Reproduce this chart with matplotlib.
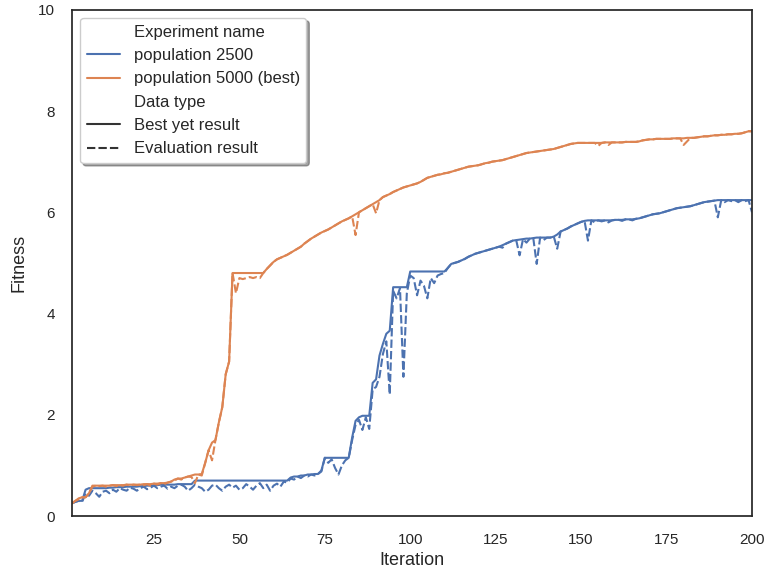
import numpy as np
import matplotlib
matplotlib.use("Agg")
import matplotlib.pyplot as plt
from matplotlib.lines import Line2D
import seaborn as sns

sns.set_style("white")
plt.rcParams['font.family'] = ['Liberation Sans', 'DejaVu Sans']

iterations = np.arange(1, 201)

# population 5000 (best)
pop5000_best = [
    0.25, 0.30, 0.35, 0.37, 0.37, 0.45, 0.60, 0.60, 0.60, 0.60,
    0.60, 0.60, 0.61, 0.61, 0.61, 0.61, 0.62, 0.62, 0.62, 0.62,
    0.62, 0.63, 0.63, 0.63, 0.64, 0.64, 0.65, 0.65, 0.66, 0.68,
    0.72, 0.74, 0.74, 0.76, 0.78, 0.80, 0.82, 0.82, 0.83, 1.05,
    1.30, 1.45, 1.50, 1.85, 2.15, 2.80, 3.05, 4.80, 4.80, 4.80,
    4.80, 4.80, 4.80, 4.80, 4.80, 4.80, 4.80, 4.88, 4.95, 5.02,
    5.07, 5.10, 5.13, 5.16, 5.20, 5.24, 5.28, 5.32, 5.38, 5.43,
    5.48, 5.52, 5.56, 5.60, 5.63, 5.66, 5.70, 5.74, 5.78, 5.82,
    5.85, 5.88, 5.92, 5.96, 6.00, 6.04, 6.08, 6.12, 6.16, 6.20,
    6.24, 6.30, 6.33, 6.36, 6.40, 6.43, 6.46, 6.49, 6.51, 6.53,
    6.55, 6.57, 6.60, 6.64, 6.68, 6.70, 6.72, 6.74, 6.75, 6.77,
    6.78, 6.80, 6.82, 6.84, 6.86, 6.88, 6.90, 6.91, 6.92, 6.93,
    6.95, 6.97, 6.98, 7.00, 7.01, 7.02, 7.03, 7.05, 7.07, 7.09,
    7.11, 7.13, 7.15, 7.17, 7.18, 7.19, 7.20, 7.21, 7.22, 7.23,
    7.24, 7.25, 7.27, 7.29, 7.31, 7.33, 7.35, 7.36, 7.37, 7.37,
    7.37, 7.37, 7.37, 7.37, 7.37, 7.37, 7.38, 7.38, 7.38, 7.38,
    7.38, 7.38, 7.39, 7.39, 7.39, 7.39, 7.40, 7.42, 7.43, 7.44,
    7.44, 7.45, 7.45, 7.45, 7.45, 7.45, 7.46, 7.46, 7.46, 7.46,
    7.47, 7.47, 7.47, 7.48, 7.49, 7.50, 7.50, 7.51, 7.52, 7.52,
    7.53, 7.53, 7.54, 7.54, 7.55, 7.55, 7.56, 7.58, 7.60, 7.60,
]
pop5000_eval = [
    0.25, 0.30, 0.33, 0.37, 0.37, 0.45, 0.58, 0.60, 0.59, 0.60,
    0.58, 0.60, 0.61, 0.59, 0.61, 0.60, 0.62, 0.60, 0.62, 0.61,
    0.62, 0.61, 0.63, 0.60, 0.64, 0.62, 0.65, 0.63, 0.66, 0.68,
    0.70, 0.74, 0.72, 0.76, 0.78, 0.77, 0.65, 0.82, 0.80, 1.05,
    1.30, 1.10, 1.50, 1.85, 2.15, 2.80, 3.05, 4.80, 4.40, 4.70,
    4.68, 4.70, 4.72, 4.70, 4.72, 4.70, 4.80, 4.88, 4.95, 5.02,
    5.07, 5.10, 5.13, 5.16, 5.20, 5.24, 5.28, 5.32, 5.38, 5.43,
    5.48, 5.52, 5.56, 5.60, 5.63, 5.66, 5.70, 5.74, 5.78, 5.82,
    5.85, 5.88, 5.92, 5.55, 6.00, 6.04, 6.08, 6.12, 6.16, 5.98,
    6.24, 6.30, 6.33, 6.36, 6.40, 6.43, 6.46, 6.49, 6.51, 6.53,
    6.55, 6.57, 6.60, 6.64, 6.68, 6.70, 6.72, 6.74, 6.75, 6.77,
    6.78, 6.80, 6.82, 6.84, 6.86, 6.88, 6.90, 6.91, 6.92, 6.93,
    6.95, 6.97, 6.98, 7.00, 7.01, 7.02, 7.03, 7.05, 7.07, 7.09,
    7.11, 7.13, 7.15, 7.17, 7.18, 7.19, 7.20, 7.21, 7.22, 7.23,
    7.24, 7.25, 7.27, 7.29, 7.31, 7.33, 7.35, 7.36, 7.37, 7.37,
    7.37, 7.37, 7.37, 7.37, 7.31, 7.37, 7.38, 7.33, 7.38, 7.38,
    7.38, 7.38, 7.39, 7.39, 7.39, 7.39, 7.40, 7.42, 7.43, 7.44,
    7.44, 7.45, 7.45, 7.45, 7.45, 7.45, 7.46, 7.46, 7.46, 7.33,
    7.40, 7.47, 7.47, 7.48, 7.49, 7.50, 7.50, 7.51, 7.52, 7.52,
    7.53, 7.53, 7.54, 7.54, 7.55, 7.55, 7.56, 7.58, 7.60, 7.60,
]

# population 2500
pop2500_best = [
    0.25, 0.28, 0.30, 0.30, 0.52, 0.55, 0.55, 0.55, 0.55, 0.55,
    0.55, 0.56, 0.56, 0.57, 0.57, 0.57, 0.58, 0.58, 0.58, 0.58,
    0.59, 0.59, 0.60, 0.60, 0.61, 0.61, 0.62, 0.62, 0.62, 0.62,
    0.62, 0.63, 0.63, 0.63, 0.63, 0.63, 0.70, 0.70, 0.70, 0.70,
    0.70, 0.70, 0.70, 0.70, 0.70, 0.70, 0.70, 0.70, 0.70, 0.70,
    0.70, 0.70, 0.70, 0.70, 0.70, 0.70, 0.70, 0.70, 0.70, 0.70,
    0.70, 0.70, 0.70, 0.70, 0.76, 0.78, 0.78, 0.80, 0.80, 0.82,
    0.82, 0.83, 0.83, 0.90, 1.15, 1.15, 1.15, 1.15, 1.15, 1.15,
    1.15, 1.15, 1.55, 1.88, 1.95, 1.98, 1.98, 1.98, 2.63, 2.70,
    3.17, 3.40, 3.60, 3.66, 4.52, 4.52, 4.52, 4.52, 4.52, 4.83,
    4.83, 4.83, 4.83, 4.83, 4.83, 4.83, 4.83, 4.83, 4.83, 4.83,
    4.90, 4.98, 5.00, 5.02, 5.05, 5.08, 5.12, 5.15, 5.18, 5.20,
    5.22, 5.24, 5.26, 5.28, 5.30, 5.32, 5.35, 5.38, 5.41, 5.44,
    5.45, 5.46, 5.47, 5.48, 5.48, 5.49, 5.50, 5.50, 5.50, 5.50,
    5.50, 5.52, 5.56, 5.62, 5.65, 5.68, 5.72, 5.75, 5.78, 5.81,
    5.83, 5.84, 5.84, 5.84, 5.84, 5.84, 5.84, 5.84, 5.84, 5.85,
    5.85, 5.85, 5.86, 5.86, 5.86, 5.87, 5.88, 5.90, 5.92, 5.94,
    5.96, 5.97, 5.98, 6.00, 6.02, 6.04, 6.06, 6.08, 6.09, 6.10,
    6.11, 6.12, 6.14, 6.16, 6.18, 6.20, 6.21, 6.22, 6.23, 6.24,
    6.24, 6.24, 6.24, 6.24, 6.24, 6.24, 6.24, 6.24, 6.24, 6.24,
]
pop2500_eval = [
    0.25, 0.28, 0.30, 0.28, 0.45, 0.40, 0.50, 0.45, 0.38, 0.48,
    0.50, 0.45, 0.52, 0.48, 0.55, 0.52, 0.50, 0.56, 0.54, 0.50,
    0.55, 0.58, 0.53, 0.56, 0.60, 0.55, 0.58, 0.60, 0.54, 0.58,
    0.55, 0.60, 0.62, 0.58, 0.50, 0.55, 0.62, 0.58, 0.55, 0.48,
    0.52, 0.60, 0.62, 0.55, 0.50, 0.58, 0.62, 0.56, 0.60, 0.52,
    0.55, 0.63, 0.58, 0.52, 0.60, 0.65, 0.55, 0.62, 0.50, 0.60,
    0.64, 0.58, 0.68, 0.66, 0.74, 0.72, 0.78, 0.75, 0.80, 0.78,
    0.82, 0.80, 0.83, 0.88, 1.15, 1.05, 1.12, 0.95, 0.82, 1.00,
    1.10, 1.15, 1.50, 1.80, 1.90, 1.70, 1.95, 1.72, 2.50, 2.55,
    2.75, 3.20, 3.45, 2.40, 4.45, 4.30, 4.50, 2.75, 4.40, 4.75,
    4.70, 4.36, 4.65, 4.55, 4.30, 4.70, 4.60, 4.75, 4.78, 4.80,
    4.90, 4.98, 5.00, 5.02, 5.05, 5.08, 5.12, 5.15, 5.18, 5.20,
    5.22, 5.24, 5.26, 5.28, 5.30, 5.32, 5.30, 5.38, 5.41, 5.44,
    5.45, 5.15, 5.47, 5.40, 5.48, 5.49, 4.98, 5.50, 5.45, 5.50,
    5.50, 5.52, 5.28, 5.62, 5.65, 5.68, 5.72, 5.75, 5.78, 5.81,
    5.83, 5.44, 5.84, 5.80, 5.84, 5.82, 5.84, 5.80, 5.84, 5.85,
    5.85, 5.83, 5.86, 5.86, 5.84, 5.87, 5.88, 5.90, 5.92, 5.94,
    5.96, 5.97, 5.98, 6.00, 6.02, 6.04, 6.06, 6.08, 6.09, 6.10,
    6.11, 6.12, 6.14, 6.16, 6.18, 6.20, 6.21, 6.22, 6.23, 5.90,
    6.24, 6.20, 6.24, 6.22, 6.24, 6.20, 6.24, 6.22, 6.24, 6.00,
]

blue = '#4C72B0'
orange = '#DD8452'
dash = (4, 1.5)

fig, ax = plt.subplots(figsize=(7.65, 5.74), dpi=100)
fig.subplots_adjust(left=0.094, right=0.983, top=0.983, bottom=0.101)

ax.plot(iterations, pop2500_best, color=blue, lw=1.5)
ax.plot(iterations, pop2500_eval, color=blue, lw=1.5, dashes=dash)
ax.plot(iterations, pop5000_best, color=orange, lw=1.5)
ax.plot(iterations, pop5000_eval, color=orange, lw=1.5, dashes=dash)

ax.set_xlim(1, 200)
ax.set_ylim(0, 10)
ax.set_xticks([25, 50, 75, 100, 125, 150, 175, 200])
ax.set_yticks([0, 2, 4, 6, 8, 10])
ax.tick_params(labelsize=11, colors='.15', length=0, pad=12)
ax.set_xlabel('Iteration', fontsize=13, labelpad=4)
ax.set_ylabel('Fitness', fontsize=13, labelpad=8)
for s in ax.spines.values():
    s.set_color('.15')
    s.set_linewidth(1.25)

blank = Line2D([], [], linestyle='none')
handles = [
    blank,
    Line2D([], [], color=blue, lw=1.5),
    Line2D([], [], color=orange, lw=1.5),
    blank,
    Line2D([], [], color='.2', lw=1.5),
    Line2D([], [], color='.2', lw=1.5, dashes=dash),
]
labels = ['Experiment name', 'population 2500', 'population 5000 (best)',
          'Data type', 'Best yet result', 'Evaluation result']
ax.legend(handles, labels, loc='upper left', fontsize=12, shadow=True,
          frameon=True, fancybox=True, labelspacing=0.5)

fig.savefig('out.png', dpi=100)
